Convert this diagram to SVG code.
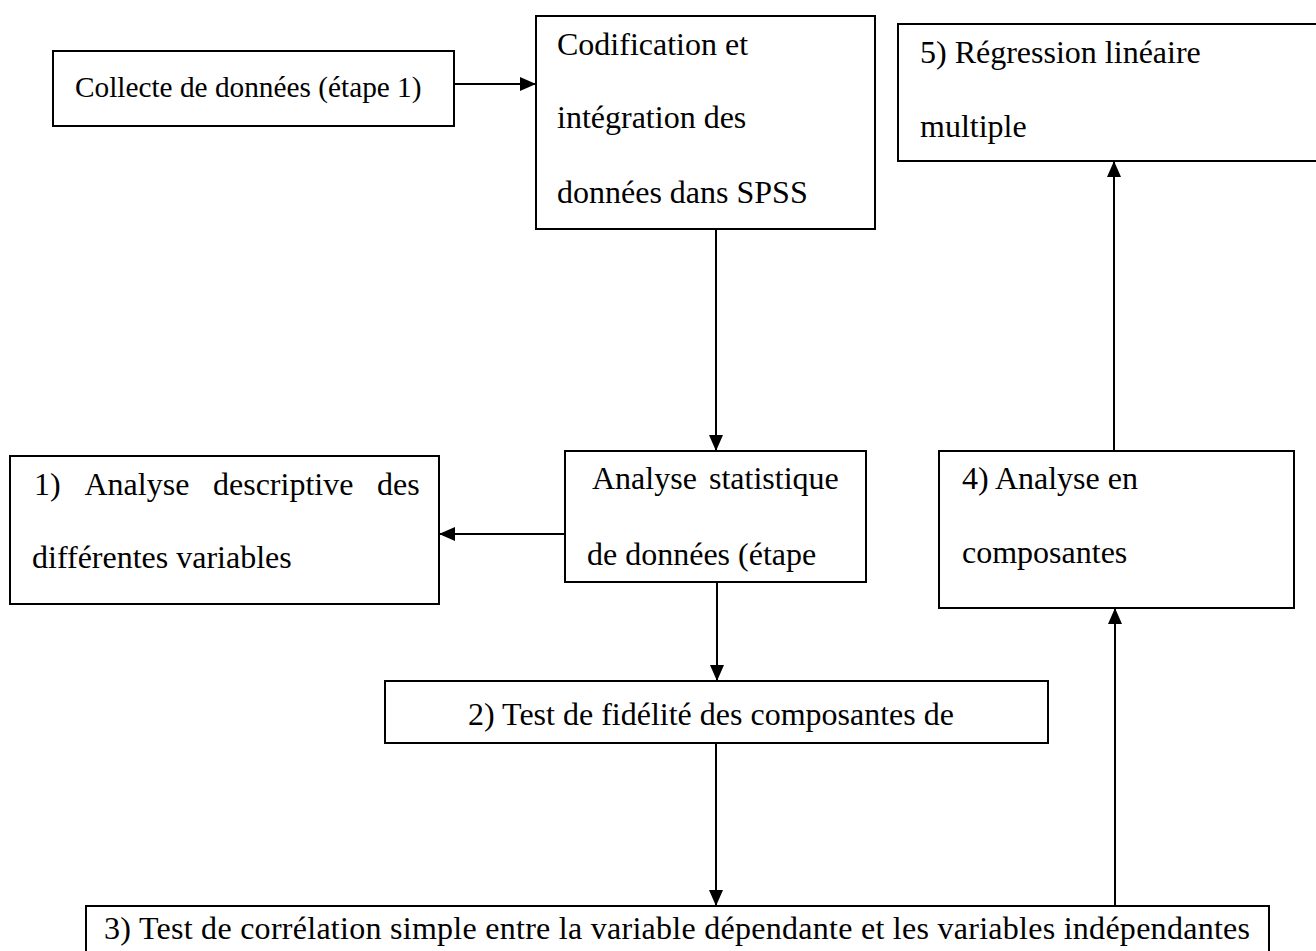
<svg xmlns="http://www.w3.org/2000/svg" width="1316" height="951" viewBox="0 0 1316 951">
<style>
  .box { fill: #ffffff; stroke: #000000; stroke-width: 2; }
  .t { font-family: "Liberation Serif", "Times New Roman", serif; font-size: 32px; fill: #000000; }
  .small { font-size: 29.3px; }
  .conn { stroke: #000000; stroke-width: 2; fill: none; marker-end: url(#ah); }
</style>
<defs>
  <marker id="ah" viewBox="0 0 16 14" refX="16" refY="7" markerWidth="16" markerHeight="14" orient="auto" markerUnits="userSpaceOnUse">
    <path d="M0,0 L16,7 L0,14 z" fill="#000000"/>
  </marker>
</defs>
<rect x="0" y="0" width="1316" height="951" fill="#ffffff"/>

<g id="n-collecte">
  <rect class="box" x="53" y="51" width="401" height="75"/>
  <text class="t small" x="75" y="97">Collecte de données (étape 1)</text>
</g>

<g id="n-codification">
  <rect class="box" x="536" y="16" width="339" height="213"/>
  <text class="t" x="557" y="55">Codification et</text>
  <text class="t" x="557" y="128">intégration des</text>
  <text class="t" x="557" y="203">données dans SPSS</text>
</g>

<g id="n-regression">
  <rect class="box" x="898" y="24" width="430" height="137"/>
  <text class="t" x="920" y="63">5) Régression linéaire</text>
  <text class="t" x="920" y="137">multiple</text>
</g>

<g id="n-descriptive">
  <rect class="box" x="10" y="456" width="429" height="148"/>
  <text class="t" y="495"><tspan x="34">1)</tspan><tspan x="84.5">Analyse</tspan><tspan x="213">descriptive</tspan><tspan x="377">des</tspan></text>
  <text class="t" x="32" y="568">différentes variables</text>
</g>

<g id="n-statistique">
  <rect class="box" x="565" y="451" width="301" height="131"/>
  <text class="t" y="489"><tspan x="592">Analyse</tspan><tspan x="709">statistique</tspan></text>
  <text class="t" x="587" y="565">de données (étape</text>
</g>

<g id="n-composantes">
  <rect class="box" x="939" y="451" width="355" height="157"/>
  <text class="t" x="962" y="489">4) Analyse en</text>
  <text class="t" x="962" y="563">composantes</text>
</g>

<g id="n-fidelite">
  <rect class="box" x="385" y="681" width="663" height="62"/>
  <text class="t" x="468" y="725">2) Test de fidélité des composantes de</text>
</g>

<g id="n-correlation">
  <rect class="box" x="86" y="906" width="1183" height="60"/>
  <text class="t" x="104" y="939" textLength="1146" lengthAdjust="spacing">3) Test de corrélation simple entre la variable dépendante et les variables indépendantes</text>
</g>

<g id="connectors">
  <line class="conn" x1="454" y1="84" x2="536" y2="84"/>
  <line class="conn" x1="716" y1="229" x2="716" y2="451"/>
  <line class="conn" x1="565" y1="534" x2="439" y2="534"/>
  <line class="conn" x1="717" y1="582" x2="717" y2="681"/>
  <line class="conn" x1="716" y1="743" x2="716" y2="906"/>
  <line class="conn" x1="1115" y1="906" x2="1115" y2="608"/>
  <line class="conn" x1="1114" y1="451" x2="1114" y2="161"/>
</g>
</svg>
